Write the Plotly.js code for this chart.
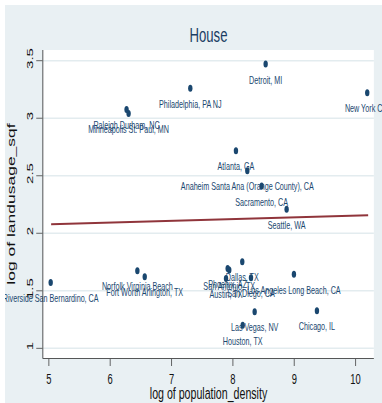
<!DOCTYPE html>
<html>
<head>
<meta charset="utf-8">
<script src="https://cdn.plot.ly/plotly-3.0.1.min.js"></script>
<style>
html, body { margin: 0; padding: 0; background: #ffffff; overflow: hidden; width: 382px; height: 403px; }
#wrap { position: absolute; left: 5px; top: 5px; width: 377px; height: 398px; overflow: hidden; }
#chart { width: 603px; height: 398px; transform: scaleX(0.6252); transform-origin: 0 0; }
</style>
</head>
<body>
<div id="wrap"><div id="chart"></div></div>
<script>
// Data
const cityLabels = [
  "Riverside San Bernardino, CA",
  "Norfolk Virginia Beach",
  "Fort Worth Arlington, TX",
  "Raleigh Durham, NC",
  "Minneapolis St. Paul, MN",
  "Philadelphia, PA NJ",
  "Detroit, MI",
  "New York City",
  "Atlanta, GA",
  "Anaheim Santa Ana (Orange County), CA",
  "Sacramento, CA",
  "Seattle, WA",
  "Dallas, TX",
  "San Antonio, TX",
  "Phoenix, AZ",
  "Austin, TX",
  "San Diego, CA",
  "Los Angeles Long Beach, CA",
  "Las Vegas, NV",
  "Chicago, IL",
  "Houston, TX"
];
const logPopulationDensity = [
  5.03, 6.443, 6.563, 6.267, 6.30, 7.306, 8.534, 10.19, 8.05, 8.235, 8.469,
  8.876, 8.153, 7.941, 7.915, 7.888, 8.295, 8.995, 8.355, 9.37, 8.16
];
const logLandusageSqf = [
  1.573, 1.674, 1.622, 3.076, 3.041, 3.26, 3.471, 3.222, 2.718, 2.544, 2.411,
  2.208, 1.753, 1.681, 1.694, 1.608, 1.614, 1.643, 1.318, 1.327, 1.200
];
// Linear fit line as drawn in the reference
const fitX = [5.037, 10.205];
const fitY = [2.078, 2.156];

const xTickVals = [5, 6, 7, 8, 9, 10];
const xTickText = ["5", "6", "7", "8", "9", "10"];
const yTickVals = [1, 1.5, 2, 2.5, 3, 3.5];
const yTickText = ["1", "1.5", "2", "2.5", "3", "3.5"];

const FONT = "Liberation Sans, Arial, Helvetica, sans-serif";
const NAVY = "#1a476f";

const traces = [
  {
    type: "scatter",
    mode: "lines",
    x: fitX,
    y: fitY,
    line: { color: "#90353b", width: 2 },
    hoverinfo: "skip",
    showlegend: false
  },
  {
    // labels: placed below each point (an invisible larger marker sets the gap)
    type: "scatter",
    mode: "markers+text",
    x: logPopulationDensity,
    y: logLandusageSqf,
    text: cityLabels,
    textposition: "bottom center",
    textfont: { family: FONT, size: 11.5, color: NAVY },
    marker: { color: NAVY, size: 16, opacity: 0 },
    cliponaxis: false,
    showlegend: false
  },
  {
    type: "scatter",
    mode: "markers",
    x: logPopulationDensity,
    y: logLandusageSqf,
    marker: { color: NAVY, size: 7 },
    cliponaxis: false,
    showlegend: false
  }
];

const layout = {
  width: 603,
  height: 398,
  margin: { l: 61, r: 13, t: 45, b: 45 },
  paper_bgcolor: "#e9f0f3",
  plot_bgcolor: "#ffffff",
  font: { family: FONT, color: "#111111" },
  showlegend: false,
  title: {
    text: "House",
    font: { family: FONT, size: 21, color: "#1a3d63" },
    x: 0.5, xref: "paper", xanchor: "center",
    y: 0.925, yref: "container", yanchor: "middle"
  },
  xaxis: {
    range: [4.907, 10.298],
    tickvals: xTickVals,
    ticktext: xTickText,
    ticks: "outside",
    ticklen: 7,
    tickwidth: 1,
    tickcolor: "#444444",
    tickfont: { family: FONT, size: 15, color: "#111111" },
    showgrid: false,
    zeroline: false,
    showline: true,
    linecolor: "#333333",
    linewidth: 1,
    automargin: false,
    title: { text: "log of population_density", font: { family: FONT, size: 17, color: "#111111" } }
  },
  yaxis: {
    range: [0.916, 3.593],
    tickvals: yTickVals,
    ticktext: yTickText,
    tickangle: -90,
    ticks: "outside",
    ticklen: 10,
    tickwidth: 1,
    tickcolor: "#444444",
    tickfont: { family: FONT, size: 15, color: "#111111" },
    showgrid: true,
    gridcolor: "#e3ecef",
    gridwidth: 1.5,
    zeroline: false,
    showline: true,
    linecolor: "#333333",
    linewidth: 1,
    automargin: false,
    title: { text: "log of landusage_sqf", font: { family: FONT, size: 17.5, color: "#111111" } }
  }
};

Plotly.newPlot("chart", traces, layout, { displayModeBar: false, responsive: false, staticPlot: true });
</script>
</body>
</html>
